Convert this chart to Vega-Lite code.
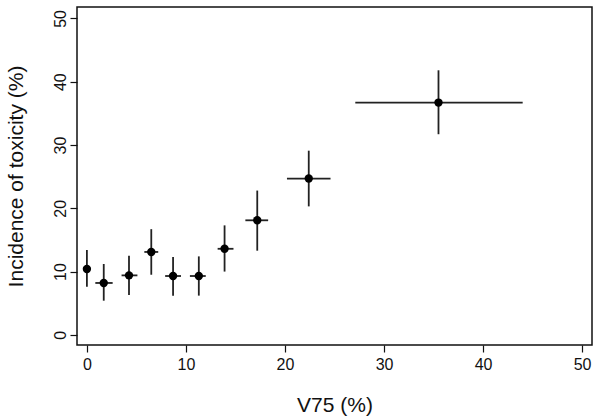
{
  "$schema": "https://vega.github.io/schema/vega-lite/v6.json",
  "autosize": "none",
  "width": 515,
  "height": 338,
  "padding": {"left": 77, "top": 7, "right": 8, "bottom": 75},
  "background": "white",
  "config": {
    "view": {"stroke": "#111", "strokeWidth": 1.5},
    "font": "Liberation Sans",
    "axis": {
      "grid": false,
      "domain": false,
      "tickColor": "#111",
      "tickSize": 7,
      "tickWidth": 1.2,
      "labelFont": "Liberation Sans",
      "labelFontSize": 16,
      "labelColor": "#111",
      "titleFont": "Liberation Sans",
      "titleFontSize": 21,
      "titleFontWeight": "normal",
      "titleColor": "#111"
    }
  },
  "data": {
    "values": [
      {"v75": 0.0, "inc": 10.4, "xlo": 0.0, "xhi": 0.2, "ylo": 7.6, "yhi": 13.4},
      {"v75": 1.7, "inc": 8.2, "xlo": 0.85, "xhi": 2.6, "ylo": 5.4, "yhi": 11.2},
      {"v75": 4.25, "inc": 9.4, "xlo": 3.5, "xhi": 5.1, "ylo": 6.3, "yhi": 12.5},
      {"v75": 6.5, "inc": 13.1, "xlo": 5.8, "xhi": 7.2, "ylo": 9.5, "yhi": 16.7},
      {"v75": 8.7, "inc": 9.3, "xlo": 7.9, "xhi": 9.5, "ylo": 6.2, "yhi": 12.3},
      {"v75": 11.3, "inc": 9.3, "xlo": 10.4, "xhi": 12.0, "ylo": 6.2, "yhi": 12.4},
      {"v75": 13.9, "inc": 13.6, "xlo": 13.2, "xhi": 14.8, "ylo": 10.0, "yhi": 17.3},
      {"v75": 17.2, "inc": 18.1, "xlo": 16.0, "xhi": 18.3, "ylo": 13.3, "yhi": 22.8},
      {"v75": 22.4, "inc": 24.7, "xlo": 20.2, "xhi": 24.6, "ylo": 20.3, "yhi": 29.1},
      {"v75": 35.5, "inc": 36.7, "xlo": 27.1, "xhi": 44.0, "ylo": 31.7, "yhi": 41.8}
    ]
  },
  "layer": [
    {
      "mark": {"type": "rule", "color": "#222", "strokeWidth": 1.8},
      "encoding": {
        "x": {"field": "xlo", "type": "quantitative",
          "scale": {"domain": [-1, 51], "nice": false, "zero": false},
          "axis": {"values": [0, 10, 20, 30, 40, 50], "title": "V75 (%)", "labelPadding": 4, "titlePadding": 22}},
        "x2": {"field": "xhi"},
        "y": {"field": "inc", "type": "quantitative",
          "scale": {"domain": [-1.6, 51.8], "nice": false, "zero": false},
          "axis": {"values": [0, 10, 20, 30, 40, 50], "title": "Incidence of toxicity (%)", "labelAngle": -90, "labelAlign": "center", "labelBaseline": "bottom", "labelPadding": 2, "titlePadding": 26}}
      }
    },
    {
      "mark": {"type": "rule", "color": "#222", "strokeWidth": 1.8},
      "encoding": {
        "x": {"field": "v75", "type": "quantitative"},
        "y": {"field": "ylo", "type": "quantitative"},
        "y2": {"field": "yhi"}
      }
    },
    {
      "mark": {"type": "point", "filled": true, "color": "#000", "opacity": 1, "size": 70},
      "encoding": {
        "x": {"field": "v75", "type": "quantitative"},
        "y": {"field": "inc", "type": "quantitative"}
      }
    }
  ]
}
